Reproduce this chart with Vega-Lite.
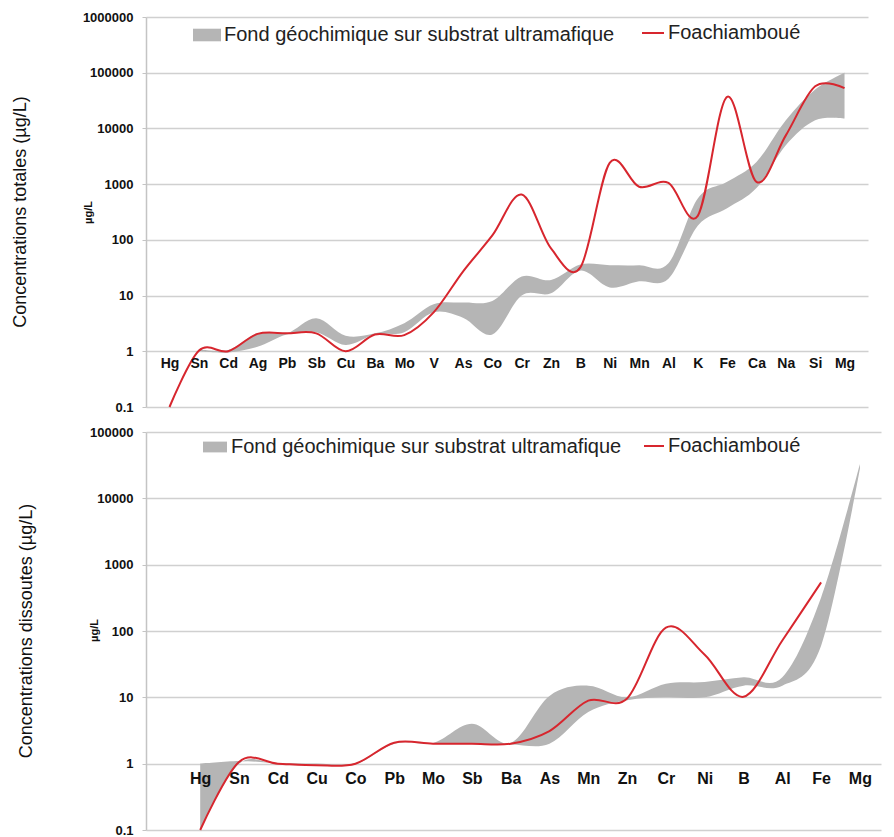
{
  "$schema": "https://vega.github.io/schema/vega-lite/v6.json",
  "padding": {"top": 11, "left": 12, "right": 5, "bottom": 5},
  "background": "white",
  "config": {
    "view": {"stroke": null},
    "font": "Liberation Sans",
    "axis": {"labelFont": "Liberation Sans", "titleFont": "Liberation Sans"},
    "legend": {"labelFont": "Liberation Sans", "labelLimit": 0}
  },
  "datasets": {
    "top": [
      {"el": "Hg", "min": null, "max": null, "val": 0.1},
      {"el": "Sn", "min": 1.0, "max": 1.1, "val": 1.02},
      {"el": "Cd", "min": 0.95, "max": 1.05, "val": 1.0},
      {"el": "Ag", "min": 1.2, "max": 2.1, "val": 2.05},
      {"el": "Pb", "min": 2.0, "max": 2.1, "val": 2.1},
      {"el": "Sb", "min": 2.2, "max": 3.9, "val": 2.1},
      {"el": "Cu", "min": 1.3, "max": 1.9, "val": 1.0},
      {"el": "Ba", "min": 2.0, "max": 2.1, "val": 2.0},
      {"el": "Mo", "min": 2.2, "max": 3.2, "val": 1.95},
      {"el": "V", "min": 5.0, "max": 7.0, "val": 5.0},
      {"el": "As", "min": 4.0, "max": 7.5, "val": 27},
      {"el": "Co", "min": 2.0, "max": 8.0, "val": 120},
      {"el": "Cr", "min": 10, "max": 22, "val": 650},
      {"el": "Zn", "min": 11, "max": 19, "val": 70},
      {"el": "B", "min": 28, "max": 36, "val": 32},
      {"el": "Ni", "min": 14, "max": 35, "val": 2400},
      {"el": "Mn", "min": 18, "max": 35, "val": 900},
      {"el": "Al", "min": 20, "max": 38, "val": 1050},
      {"el": "K", "min": 180, "max": 550, "val": 270},
      {"el": "Fe", "min": 370, "max": 1100, "val": 37000},
      {"el": "Ca", "min": 850, "max": 2500, "val": 1100},
      {"el": "Na", "min": 5000, "max": 14000, "val": 7500},
      {"el": "Si", "min": 14000, "max": 50000, "val": 57000},
      {"el": "Mg", "min": 15000, "max": 100000, "val": 53000}
    ],
    "bottom": [
      {"el": "Hg", "min": 0.1, "max": 1.0, "val": 0.1},
      {"el": "Sn", "min": 1.0, "max": 1.1, "val": 1.06},
      {"el": "Cd", "min": 0.98, "max": 1.02, "val": 1.0},
      {"el": "Cu", "min": 0.97, "max": 1.01, "val": 0.95},
      {"el": "Co", "min": 0.98, "max": 1.02, "val": 1.0},
      {"el": "Pb", "min": 2.0, "max": 2.1, "val": 2.07},
      {"el": "Mo", "min": 2.0, "max": 2.05, "val": 2.0},
      {"el": "Sb", "min": 2.0, "max": 4.0, "val": 2.0},
      {"el": "Ba", "min": 1.95, "max": 2.05, "val": 2.0},
      {"el": "As", "min": 2.0, "max": 10.5, "val": 3.1},
      {"el": "Mn", "min": 6, "max": 15, "val": 8.9},
      {"el": "Zn", "min": 9, "max": 10, "val": 9.6},
      {"el": "Cr", "min": 10, "max": 16, "val": 112},
      {"el": "Ni", "min": 10, "max": 17, "val": 44},
      {"el": "B", "min": 15, "max": 20, "val": 10.2},
      {"el": "Al", "min": 15, "max": 20, "val": 72},
      {"el": "Fe", "min": 60, "max": 320, "val": 540},
      {"el": "Mg", "min": 28000, "max": 33000, "val": null}
    ]
  },
  "spacing": 12,
  "resolve": {
    "scale": {"fill": "independent", "stroke": "independent"},
    "legend": {"fill": "independent", "stroke": "independent"}
  },
  "vconcat": [
    {
      "title": {"text": "Concentrations totales (µg/L)", "orient": "left", "anchor": "middle", "fontSize": 18, "fontWeight": "normal", "font": "Liberation Sans", "offset": 52, "color": "#111"},
      "width": 722,
      "height": 390,
      "data": {"name": "top"},
      "encoding": {
        "x": {
          "field": "el", "type": "nominal", "sort": null,
          "scale": {"type": "point", "padding": 0.8, "align": 0.5},
          "axis": {"title": null, "orient": "bottom", "offset": -56, "zindex": 2, "domain": false, "ticks": false, "grid": false, "labelAngle": 0, "labelFontSize": 14, "labelFontWeight": "bold", "labelColor": "#111", "labelPadding": 5}
        }
      },
      "layer": [
        {
          "mark": {"type": "area", "interpolate": "cardinal"},
          "encoding": {
            "y": {
              "field": "min", "type": "quantitative",
              "scale": {"type": "log", "domain": [0.1, 1000000]},
              "axis": {"title": "µg/L", "titleFontSize": 11, "titleFontWeight": "bold", "titleX": -58, "titleY": 195, "titleBaseline": "middle", "titleColor": "#111",
                "values": [0.1, 1, 10, 100, 1000, 10000, 100000, 1000000],
                "labelExpr": "datum.value < 1 ? '0.1' : format(datum.value, 'd')",
                "labelFontSize": 13, "labelFontWeight": "bold", "labelColor": "#111", "labelPadding": 9,
                "grid": true, "gridColor": "#d0d0d0", "gridWidth": 1.5, "domainColor": "#c4c4c4", "domainWidth": 1.5, "tickColor": "#c4c4c4", "tickSize": 4}
            },
            "y2": {"field": "max"},
            "fill": {
              "datum": "Fond géochimique sur substrat ultramafique", "type": "nominal",
              "scale": {"range": ["#b5b5b5"]},
              "legend": {"title": null, "orient": "none", "legendX": 47, "legendY": 4, "symbolType": "M-1,-0.45H1V0.45H-1Z", "symbolSize": 784, "symbolStrokeWidth": 0, "labelFontSize": 20, "labelColor": "#222", "labelOffset": 3, "padding": 0}
            }
          }
        },
        {
          "mark": {"type": "line", "interpolate": "cardinal", "strokeWidth": 2},
          "encoding": {
            "y": {"field": "val", "type": "quantitative"},
            "stroke": {
              "datum": "Foachiamboué", "type": "nominal",
              "scale": {"range": ["#d7262e"]},
              "legend": {"title": null, "orient": "none", "legendX": 495, "legendY": 4, "symbolType": "stroke", "symbolSize": 484, "symbolStrokeWidth": 2, "labelFontSize": 20, "labelColor": "#222", "labelOffset": 3, "padding": 0}
            }
          }
        }
      ]
    },
    {
      "title": {"text": "Concentrations dissoutes (µg/L)", "orient": "left", "anchor": "middle", "fontSize": 18, "fontWeight": "normal", "font": "Liberation Sans", "offset": 52, "color": "#111"},
      "width": 735,
      "height": 398,
      "data": {"name": "bottom"},
      "encoding": {
        "x": {
          "field": "el", "type": "nominal", "sort": null,
          "scale": {"type": "point", "padding": 0.97, "align": 0.72},
          "axis": {"title": null, "orient": "bottom", "offset": -66, "zindex": 2, "domain": false, "ticks": false, "grid": false, "labelAngle": 0, "labelFontSize": 16, "labelFontWeight": "bold", "labelColor": "#111", "labelPadding": 6}
        }
      },
      "layer": [
        {
          "mark": {"type": "area", "interpolate": "cardinal"},
          "encoding": {
            "y": {
              "field": "min", "type": "quantitative",
              "scale": {"type": "log", "domain": [0.1, 100000]},
              "axis": {"title": "µg/L", "titleFontSize": 11, "titleFontWeight": "bold", "titleX": -52, "titleY": 198, "titleBaseline": "middle", "titleColor": "#111",
                "values": [0.1, 1, 10, 100, 1000, 10000, 100000],
                "labelExpr": "datum.value < 1 ? '0.1' : format(datum.value, 'd')",
                "labelFontSize": 13, "labelFontWeight": "bold", "labelColor": "#111", "labelPadding": 9,
                "grid": true, "gridColor": "#d0d0d0", "gridWidth": 1.5, "domainColor": "#c4c4c4", "domainWidth": 1.5, "tickColor": "#c4c4c4", "tickSize": 4}
            },
            "y2": {"field": "max"},
            "fill": {
              "datum": "Fond géochimique sur substrat ultramafique", "type": "nominal",
              "scale": {"range": ["#b5b5b5"]},
              "legend": {"title": null, "orient": "none", "legendX": 57, "legendY": 3, "symbolType": "M-1,-0.45H1V0.45H-1Z", "symbolSize": 576, "symbolStrokeWidth": 0, "labelFontSize": 20, "labelColor": "#222", "labelOffset": 4, "padding": 0}
            }
          }
        },
        {
          "mark": {"type": "line", "interpolate": "cardinal", "strokeWidth": 2},
          "encoding": {
            "y": {"field": "val", "type": "quantitative"},
            "stroke": {
              "datum": "Foachiamboué", "type": "nominal",
              "scale": {"range": ["#d7262e"]},
              "legend": {"title": null, "orient": "none", "legendX": 497, "legendY": 3, "symbolType": "stroke", "symbolSize": 400, "symbolStrokeWidth": 2, "labelFontSize": 20, "labelColor": "#222", "labelOffset": 3, "padding": 0}
            }
          }
        }
      ]
    }
  ]
}
